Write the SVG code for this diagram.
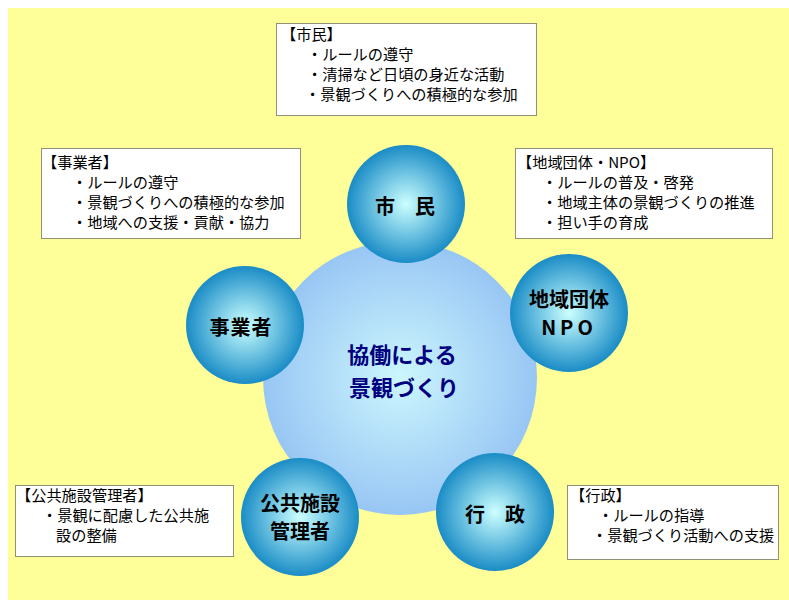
<svg xmlns="http://www.w3.org/2000/svg" width="789" height="600" viewBox="0 0 789 600">
<defs>
<radialGradient id="gBall" cx="50%" cy="50%" r="50%">
<stop offset="0" stop-color="#CCFFFF"/>
<stop offset="0.45" stop-color="#7CCCE6"/>
<stop offset="1" stop-color="#1A8CC6"/>
</radialGradient>
<radialGradient id="gBig" cx="50%" cy="50%" r="50%">
<stop offset="0" stop-color="#CCF6FD"/>
<stop offset="1" stop-color="#98C6F4"/>
</radialGradient>
<style>
.box{fill:#FFFFFF;stroke:#222;stroke-width:1;stroke-dasharray:1 1}
.t{font-family:"Noto Sans CJK JP","Liberation Sans",sans-serif;font-size:15.2px;fill:#000}
.ball{fill:url(#gBall)}
.lbl{font-family:"Noto Sans CJK JP","Liberation Sans",sans-serif;font-size:20px;font-weight:bold;fill:#000;text-anchor:middle}
.ctr{font-family:"Noto Sans CJK JP","Liberation Sans",sans-serif;font-size:22px;font-weight:bold;fill:#000080;text-anchor:middle}
</style>
</defs>
<rect x="8" y="8" width="781" height="592" fill="#FFFF99"/>
<g id="connectors"/>
<g id="center">
<circle cx="400" cy="378" r="137" fill="url(#gBig)"/>
<text class="ctr" x="402" y="363">協働による</text>
<text class="ctr" x="404" y="396">景観づくり</text>
</g>
<g id="node-shimin">
<circle class="ball" cx="406" cy="204" r="59"/>
<text class="lbl" x="405" y="214">市　民</text>
</g>
<g id="node-jigyosha">
<circle class="ball" cx="245" cy="325" r="59"/>
<text class="lbl" x="241" y="335" letter-spacing="1">事業者</text>
</g>
<g id="node-npo">
<circle class="ball" cx="569" cy="313" r="59"/>
<text class="lbl" x="569" y="307">地域団体</text>
<text class="lbl" x="569" y="335" letter-spacing="4">NPO</text>
</g>
<g id="node-kokyo">
<circle class="ball" cx="300" cy="517" r="59"/>
<text class="lbl" x="300" y="511">公共施設</text>
<text class="lbl" x="300" y="539">管理者</text>
</g>
<g id="node-gyosei">
<circle class="ball" cx="495" cy="512" r="59"/>
<text class="lbl" x="495" y="522">行　政</text>
</g>
<g id="box-shimin">
<rect class="box" x="276.5" y="23.5" width="260" height="92"/>
<text class="t" x="281" y="40">【市民】</text>
<text class="t" x="307" y="60">・ルールの遵守</text>
<text class="t" x="307" y="80">・清掃など日頃の身近な活動</text>
<text class="t" x="305" y="100">・景観づくりへの積極的な参加</text>
</g>
<g id="box-jigyosha">
<rect class="box" x="41.5" y="148.5" width="259" height="90"/>
<text class="t" x="42" y="168">【事業者】</text>
<text class="t" x="72" y="188">・ルールの遵守</text>
<text class="t" x="72" y="208">・景観づくりへの積極的な参加</text>
<text class="t" x="72" y="228">・地域への支援・貢献・協力</text>
</g>
<g id="box-npo">
<rect class="box" x="515.5" y="148.5" width="257" height="90"/>
<text class="t" x="517" y="168">【地域団体・NPO】</text>
<text class="t" x="542" y="188">・ルールの普及・啓発</text>
<text class="t" x="542" y="208">・地域主体の景観づくりの推進</text>
<text class="t" x="542" y="228">・担い手の育成</text>
</g>
<g id="box-kokyo">
<rect class="box" x="15.5" y="485.5" width="218" height="71"/>
<text class="t" x="16" y="501">【公共施設管理者】</text>
<text class="t" x="42" y="521">・景観に配慮した公共施</text>
<text class="t" x="56" y="541">設の整備</text>
</g>
<g id="box-gyosei">
<rect class="box" x="567.5" y="485.5" width="211" height="74"/>
<text class="t" x="570" y="501">【行政】</text>
<text class="t" x="598" y="521">・ルールの指導</text>
<text class="t" x="592" y="541">・景観づくり活動への支援</text>
</g>
</svg>
